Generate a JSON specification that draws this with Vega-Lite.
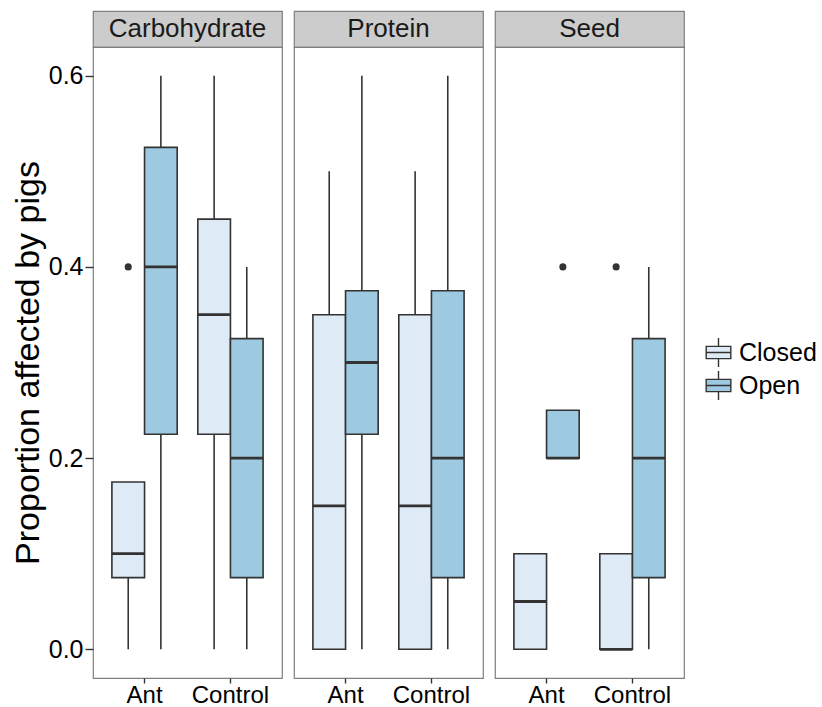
{
  "$schema": "https://vega.github.io/schema/vega-lite/v6.json",
  "background": "white",
  "padding": {"top": 10, "left": 10, "right": 0, "bottom": 0},
  "datasets": {
    "panels": [
      {"Food": "Carbohydrate"},
      {"Food": "Protein"},
      {"Food": "Seed"}
    ],
    "boxes": [
      {"Food": "Carbohydrate", "Treatment": "Ant", "Habitat": "Closed", "lower": 0, "q1": 0.075, "median": 0.1, "q3": 0.175, "upper": 0.175},
      {"Food": "Carbohydrate", "Treatment": "Ant", "Habitat": "Open", "lower": 0, "q1": 0.225, "median": 0.4, "q3": 0.525, "upper": 0.6},
      {"Food": "Carbohydrate", "Treatment": "Control", "Habitat": "Closed", "lower": 0, "q1": 0.225, "median": 0.35, "q3": 0.45, "upper": 0.6},
      {"Food": "Carbohydrate", "Treatment": "Control", "Habitat": "Open", "lower": 0, "q1": 0.075, "median": 0.2, "q3": 0.325, "upper": 0.4},
      {"Food": "Protein", "Treatment": "Ant", "Habitat": "Closed", "lower": 0, "q1": 0, "median": 0.15, "q3": 0.35, "upper": 0.5},
      {"Food": "Protein", "Treatment": "Ant", "Habitat": "Open", "lower": 0, "q1": 0.225, "median": 0.3, "q3": 0.375, "upper": 0.6},
      {"Food": "Protein", "Treatment": "Control", "Habitat": "Closed", "lower": 0, "q1": 0, "median": 0.15, "q3": 0.35, "upper": 0.5},
      {"Food": "Protein", "Treatment": "Control", "Habitat": "Open", "lower": 0, "q1": 0.075, "median": 0.2, "q3": 0.375, "upper": 0.6},
      {"Food": "Seed", "Treatment": "Ant", "Habitat": "Closed", "lower": 0, "q1": 0, "median": 0.05, "q3": 0.1, "upper": 0.1},
      {"Food": "Seed", "Treatment": "Ant", "Habitat": "Open", "lower": 0.2, "q1": 0.2, "median": 0.2, "q3": 0.25, "upper": 0.25},
      {"Food": "Seed", "Treatment": "Control", "Habitat": "Closed", "lower": 0, "q1": 0, "median": 0, "q3": 0.1, "upper": 0.1},
      {"Food": "Seed", "Treatment": "Control", "Habitat": "Open", "lower": 0, "q1": 0.075, "median": 0.2, "q3": 0.325, "upper": 0.4}
    ],
    "outliers": [
      {"Food": "Carbohydrate", "Treatment": "Ant", "Habitat": "Closed", "value": 0.4},
      {"Food": "Seed", "Treatment": "Ant", "Habitat": "Open", "value": 0.4},
      {"Food": "Seed", "Treatment": "Control", "Habitat": "Closed", "value": 0.4}
    ]
  },
  "hconcat": [
    {
      "bounds": "flush",
      "spacing": 0,
      "vconcat": [
        {
          "width": 189, "height": 36,
          "view": {"fill": "#CCCCCC", "stroke": "#7F7F7F", "strokeWidth": 1.2},
          "data": {"name": "panels"},
          "transform": [{"filter": "datum.Food === 'Carbohydrate'"}],
          "mark": {"type": "text", "fontSize": 26, "font": "Liberation Sans", "color": "#1A1A1A", "baseline": "middle", "align": "center"},
          "encoding": {"text": {"field": "Food", "type": "nominal"}}
        },
        {
          "width": 189, "height": 631,
          "view": {"stroke": "#7F7F7F", "strokeWidth": 1.2},
          "encoding": {
            "x": {"field": "Treatment", "type": "nominal", "title": null,
                  "scale": {"domain": ["Ant", "Control"], "paddingInner": 0.24, "paddingOuter": 0.22}},
            "xOffset": {"field": "Habitat", "type": "nominal",
                        "scale": {"domain": ["Closed", "Open"], "paddingInner": 0, "paddingOuter": 0}}
          },
          "layer": [
            {
              "data": {"name": "boxes"},
              "transform": [{"filter": "datum.Food === 'Carbohydrate'"}],
              "mark": {"type": "rule", "color": "#333333", "strokeWidth": 1.6},
              "encoding": {
                "y": {"field": "lower", "type": "quantitative", "title": "Proportion affected by pigs",
                      "scale": {"domain": [-0.03, 0.63], "nice": false, "zero": false},
                      "axis": {"values": [0, 0.2, 0.4, 0.6], "format": ".1f"}},
                "y2": {"field": "upper"}
              }
            },
            {
              "data": {"name": "boxes"},
              "transform": [{"filter": "datum.Food === 'Carbohydrate'"}],
              "mark": {"type": "bar", "stroke": "#333333", "strokeWidth": 1.6},
              "encoding": {
                "y": {"field": "q1", "type": "quantitative", "title": "Proportion affected by pigs"},
                "y2": {"field": "q3"},
                "fill": {"field": "Habitat", "type": "nominal", "title": null,
                         "scale": {"domain": ["Closed", "Open"], "range": ["#DEEBF7", "#9ECAE1"]}}
              }
            },
            {
              "data": {"name": "boxes"},
              "transform": [{"filter": "datum.Food === 'Carbohydrate'"}],
              "mark": {"type": "bar", "stroke": "#333333", "strokeWidth": 2.8, "fill": null},
              "encoding": {
                "y": {"field": "median", "type": "quantitative", "title": "Proportion affected by pigs"},
                "y2": {"field": "median"}
              }
            },
            {
              "data": {"name": "outliers"},
              "transform": [{"filter": "datum.Food === 'Carbohydrate'"}],
              "mark": {"type": "point", "filled": true, "color": "#333333", "opacity": 1, "size": 50},
              "encoding": {
                "y": {"field": "value", "type": "quantitative", "title": "Proportion affected by pigs"}
              }
            }
          ]
        }
      ]
    },
    {
      "bounds": "flush",
      "spacing": 0,
      "vconcat": [
        {
          "width": 189, "height": 36,
          "view": {"fill": "#CCCCCC", "stroke": "#7F7F7F", "strokeWidth": 1.2},
          "data": {"name": "panels"},
          "transform": [{"filter": "datum.Food === 'Protein'"}],
          "mark": {"type": "text", "fontSize": 26, "font": "Liberation Sans", "color": "#1A1A1A", "baseline": "middle", "align": "center"},
          "encoding": {"text": {"field": "Food", "type": "nominal"}}
        },
        {
          "width": 189, "height": 631,
          "view": {"stroke": "#7F7F7F", "strokeWidth": 1.2},
          "encoding": {
            "x": {"field": "Treatment", "type": "nominal", "title": null,
                  "scale": {"domain": ["Ant", "Control"], "paddingInner": 0.24, "paddingOuter": 0.22}},
            "xOffset": {"field": "Habitat", "type": "nominal",
                        "scale": {"domain": ["Closed", "Open"], "paddingInner": 0, "paddingOuter": 0}}
          },
          "layer": [
            {
              "data": {"name": "boxes"},
              "transform": [{"filter": "datum.Food === 'Protein'"}],
              "mark": {"type": "rule", "color": "#333333", "strokeWidth": 1.6},
              "encoding": {
                "y": {"field": "lower", "type": "quantitative", "axis": null,
                      "scale": {"domain": [-0.03, 0.63], "nice": false, "zero": false}},
                "y2": {"field": "upper"}
              }
            },
            {
              "data": {"name": "boxes"},
              "transform": [{"filter": "datum.Food === 'Protein'"}],
              "mark": {"type": "bar", "stroke": "#333333", "strokeWidth": 1.6},
              "encoding": {
                "y": {"field": "q1", "type": "quantitative", "axis": null},
                "y2": {"field": "q3"},
                "fill": {"field": "Habitat", "type": "nominal", "title": null,
                         "scale": {"domain": ["Closed", "Open"], "range": ["#DEEBF7", "#9ECAE1"]}}
              }
            },
            {
              "data": {"name": "boxes"},
              "transform": [{"filter": "datum.Food === 'Protein'"}],
              "mark": {"type": "bar", "stroke": "#333333", "strokeWidth": 2.8, "fill": null},
              "encoding": {
                "y": {"field": "median", "type": "quantitative", "axis": null},
                "y2": {"field": "median"}
              }
            }
          ]
        }
      ]
    },
    {
      "bounds": "flush",
      "spacing": 0,
      "vconcat": [
        {
          "width": 189, "height": 36,
          "view": {"fill": "#CCCCCC", "stroke": "#7F7F7F", "strokeWidth": 1.2},
          "data": {"name": "panels"},
          "transform": [{"filter": "datum.Food === 'Seed'"}],
          "mark": {"type": "text", "fontSize": 26, "font": "Liberation Sans", "color": "#1A1A1A", "baseline": "middle", "align": "center"},
          "encoding": {"text": {"field": "Food", "type": "nominal"}}
        },
        {
          "width": 189, "height": 631,
          "view": {"stroke": "#7F7F7F", "strokeWidth": 1.2},
          "encoding": {
            "x": {"field": "Treatment", "type": "nominal", "title": null,
                  "scale": {"domain": ["Ant", "Control"], "paddingInner": 0.24, "paddingOuter": 0.22}},
            "xOffset": {"field": "Habitat", "type": "nominal",
                        "scale": {"domain": ["Closed", "Open"], "paddingInner": 0, "paddingOuter": 0}}
          },
          "layer": [
            {
              "data": {"name": "boxes"},
              "transform": [{"filter": "datum.Food === 'Seed'"}],
              "mark": {"type": "rule", "color": "#333333", "strokeWidth": 1.6},
              "encoding": {
                "y": {"field": "lower", "type": "quantitative", "axis": null,
                      "scale": {"domain": [-0.03, 0.63], "nice": false, "zero": false}},
                "y2": {"field": "upper"}
              }
            },
            {
              "data": {"name": "boxes"},
              "transform": [{"filter": "datum.Food === 'Seed'"}],
              "mark": {"type": "bar", "stroke": "#333333", "strokeWidth": 1.6},
              "encoding": {
                "y": {"field": "q1", "type": "quantitative", "axis": null},
                "y2": {"field": "q3"},
                "fill": {"field": "Habitat", "type": "nominal", "title": null,
                         "scale": {"domain": ["Closed", "Open"], "range": ["#DEEBF7", "#9ECAE1"]},
                         "legend": {"orient": "none", "legendX": 610, "legendY": 326}}
              }
            },
            {
              "data": {"name": "boxes"},
              "transform": [{"filter": "datum.Food === 'Seed'"}],
              "mark": {"type": "bar", "stroke": "#333333", "strokeWidth": 2.8, "fill": null},
              "encoding": {
                "y": {"field": "median", "type": "quantitative", "axis": null},
                "y2": {"field": "median"}
              }
            },
            {
              "data": {"name": "outliers"},
              "transform": [{"filter": "datum.Food === 'Seed'"}],
              "mark": {"type": "point", "filled": true, "color": "#333333", "opacity": 1, "size": 50},
              "encoding": {
                "y": {"field": "value", "type": "quantitative", "axis": null}
              }
            }
          ]
        }
      ]
    }
  ],
  "resolve": {"scale": {"fill": "shared"}},
  "config": {
    "concat": {"spacing": 10},
    "view": {"stroke": "#7F7F7F"},
    "axis": {
      "grid": false,
      "domain": false,
      "labelFont": "Liberation Sans",
      "titleFont": "Liberation Sans",
      "labelFontSize": 25,
      "labelColor": "#000000",
      "tickColor": "#333333",
      "tickWidth": 1.4,
      "titleColor": "#000000",
      "titleFontWeight": "normal"
    },
    "axisX": {"tickSize": 5, "labelPadding": 0, "labelAngle": 0, "labelFontSize": 24},
    "axisY": {"tickSize": 8, "labelPadding": 2, "titleFontSize": 34, "titlePadding": 3},
    "legend": {
      "labelFont": "Liberation Sans",
      "labelFontSize": 25,
      "labelColor": "#000000",
      "symbolType": "M-0.85,-0.42H0.85V0.42H-0.85Z M-0.85,0H0.85 M0,-0.42V-1 M0,0.42V1",
      "symbolSize": 841,
      "symbolStrokeColor": "#333333",
      "symbolStrokeWidth": 1.4,
      "rowPadding": -7,
      "labelOffset": 5
    }
  }
}
